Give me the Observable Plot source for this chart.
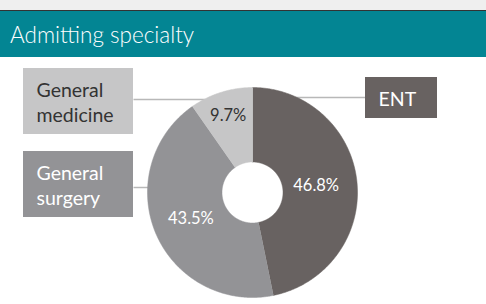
<!DOCTYPE html>
<html><head><meta charset="utf-8">
<script src="https://cdn.jsdelivr.net/npm/d3@7"></script>
<script src="https://cdn.jsdelivr.net/npm/@observablehq/plot@0.6"></script>
<style>
html,body{margin:0;padding:0;background:#fff;overflow:hidden}
body{width:486px;height:304px;font-family:Lato,"Open Sans",sans-serif}
#strip{height:10px;background:#efefef;border-bottom:1px solid #333}
#head{height:46px;background:#038593;color:#fff;font-size:22.5px;font-weight:300;line-height:48px;padding-left:10px;box-sizing:border-box}
#chart svg{display:block}
</style></head><body>
<div id="strip"></div><div id="head">Admitting specialty</div>
<div id="chart"></div>
<script>
// ---- data ----
const categories = ["ENT", "General surgery", "General medicine"];
const boxLabels = ["ENT", "General\nsurgery", "General\nmedicine"];
const shares = [46.8, 43.5, 9.7];
const shareLabels = ["46.8%", "43.5%", "9.7%"];

// ---- styles / layout ----
const palette = ["#686261", "#939396", "#c6c6c7"];
const darkText = [false, false, true];
const W = 486, H = 247;
const center = [252, 135], R = 105, R0 = 30.5;
const labelR = [64, 67, 81];
const boxes = [
  {x1: 365, x2: 437, y1: 20, y2: 61, lineY: 40},
  {x1: 23, x2: 133, y1: 94, y2: 160, lineY: 130},
  {x1: 23, x2: 133, y1: 11, y2: 77, lineY: 42}
];

const arcs = d3.pie().sort(null).value(d => d)(shares);
const idx = d3.range(categories.length);
const mid = i => (arcs[i].startAngle + arcs[i].endAngle) / 2;
const lx = i => center[0] + labelR[i] * Math.sin(mid(i));
const ly = i => center[1] - labelR[i] * Math.cos(mid(i));
const leftSide = i => boxes[i].x2 < center[0];
const edgeX = i => {
  const dy = boxes[i].lineY - center[1];
  const dx = Math.sqrt(Math.max(0, R * R - dy * dy)) - 1;
  return leftSide(i) ? center[0] - dx : center[0] + dx;
};

// slice outlines derived from the pie angles (data space)
function slicePolygon(i) {
  const a0 = arcs[i].startAngle, a1 = arcs[i].endAngle;
  const n = Math.max(8, Math.ceil((a1 - a0) / 0.01));
  const pts = [];
  for (let j = 0; j <= n; j++) {
    const a = a0 + (a1 - a0) * j / n;
    pts.push({x: center[0] + R * Math.sin(a), y: center[1] - R * Math.cos(a)});
  }
  for (let j = n; j >= 0; j--) {
    const a = a0 + (a1 - a0) * j / n;
    pts.push({x: center[0] + R0 * Math.sin(a), y: center[1] - R0 * Math.cos(a)});
  }
  return pts;
}

const chart = Plot.plot({
  width: W, height: H, margin: 0,
  style: {fontFamily: "Lato, 'Open Sans', sans-serif", background: "transparent"},
  x: {domain: [0, W], range: [0, W], axis: null},
  y: {domain: [0, H], range: [0, H], axis: null},
  color: {domain: categories, range: palette},
  marks: [
    Plot.link(idx, {
      x1: i => leftSide(i) ? boxes[i].x2 : boxes[i].x1,
      x2: edgeX,
      y1: i => boxes[i].lineY, y2: i => boxes[i].lineY,
      stroke: "#b8b8b8", strokeWidth: 1.5
    }),
    Plot.rect(idx, {
      x1: i => boxes[i].x1, x2: i => boxes[i].x2,
      y1: i => boxes[i].y1, y2: i => boxes[i].y2,
      fill: i => categories[i]
    }),
    Plot.text(idx.filter(i => !darkText[i]), {
      x: i => boxes[i].x1 + 13, y: i => (boxes[i].y1 + boxes[i].y2) / 2,
      text: i => boxLabels[i], textAnchor: "start", lineAnchor: "middle",
      lineHeight: 1.3, fontSize: 19.5, fill: "#fff"
    }),
    Plot.text(idx.filter(i => darkText[i]), {
      x: i => boxes[i].x1 + 13, y: i => (boxes[i].y1 + boxes[i].y2) / 2,
      text: i => boxLabels[i], textAnchor: "start", lineAnchor: "middle",
      lineHeight: 1.3, fontSize: 19.5, fill: "#333"
    }),
    ...idx.map(i => Plot.line(slicePolygon(i), {
      x: "x", y: "y", fill: palette[i], stroke: palette[i], strokeWidth: 0.5, curve: "linear"
    })),
    Plot.text(idx.filter(i => !darkText[i]), {
      x: lx, y: ly, text: i => shareLabels[i], fontSize: 16.5, fill: "#fff"
    }),
    Plot.text(idx.filter(i => darkText[i]), {
      x: lx, y: ly, text: i => shareLabels[i], fontSize: 16.5, fill: "#333"
    })
  ]
});
document.getElementById("chart").append(chart);
</script>
</body></html>
